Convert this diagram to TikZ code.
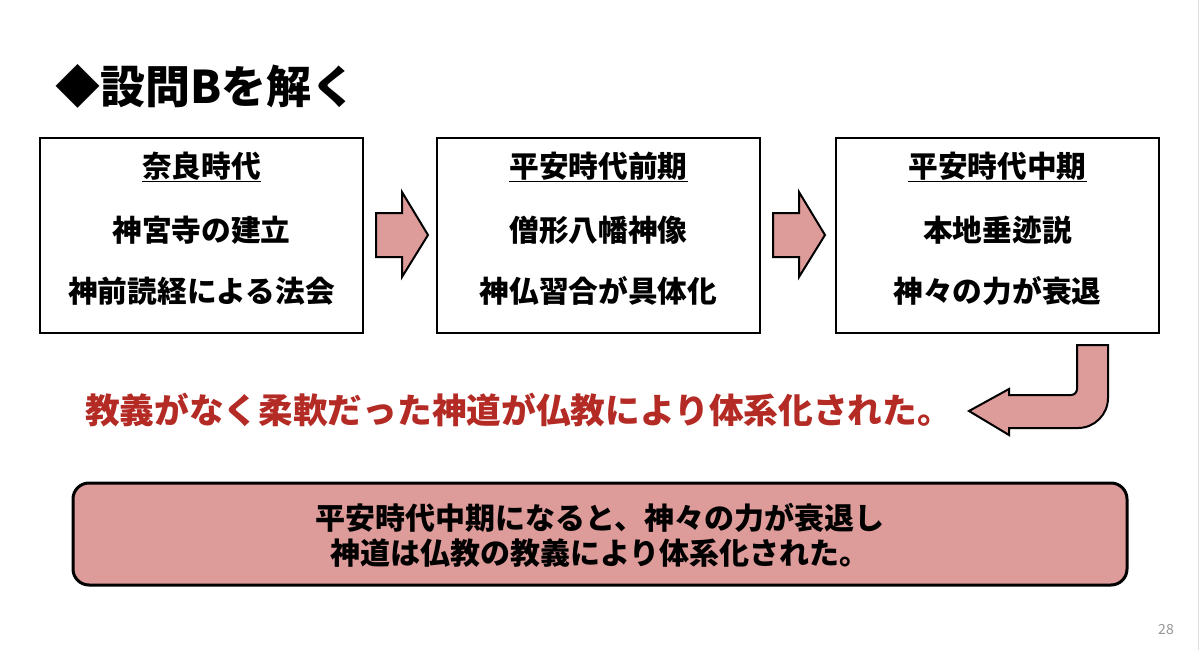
\documentclass[tikz,border=0pt]{standalone}
\usepackage{fontspec}
\setmainfont{Noto Sans CJK JP}
\setsansfont{Noto Sans CJK JP}
\definecolor{pinkfill}{RGB}{221,155,153}
\definecolor{redtext}{RGB}{180,42,36}
\definecolor{pagegray}{RGB}{150,150,150}
\begin{document}
\begin{tikzpicture}[x=1pt,y=-1pt,
  stagebox/.style={draw=black,line width=2pt,fill=white,minimum width=323pt,minimum height=195pt,inner sep=0pt},
  stagetext/.style={font=\fontsize{29.7}{34}\selectfont\bfseries,inner sep=0pt},
  blockarrow/.style={draw=black,line width=2pt,fill=pinkfill,line join=miter},
  summarybox/.style={draw=black,line width=3pt,fill=pinkfill,rounded corners=16pt,minimum width=1054pt,minimum height=102pt,inner sep=0pt}]
\useasboundingbox (0,0) rectangle (1200,650);
\fill[white] (0,0) rectangle (1200,650);
\draw[gray!25,line width=1.5pt] (1198.5,0) -- (1198.5,650);

% title
\node[anchor=west,inner sep=0pt,font=\fontsize{45}{50}\selectfont\bfseries] (title) at (55,86) {◆設問Bを解く};

% stage boxes
\node[stagebox] (b1) at (201.5,235.5) {};
\node[stagebox] (b2) at (598.5,235.5) {};
\node[stagebox] (b3) at (997.5,235.5) {};

\node[stagetext] (b1t) at (201.5,167) {\underline{奈良時代}};
\node[stagetext] (b1a) at (201.5,230) {神宮寺の建立};
\node[stagetext] (b1b) at (201.5,291) {神前読経による法会};

\node[stagetext] (b2t) at (598.5,167) {\underline{平安時代前期}};
\node[stagetext] (b2a) at (598.5,230) {僧形八幡神像};
\node[stagetext] (b2b) at (598.5,291) {神仏習合が具体化};

\node[stagetext] (b3t) at (997.5,167) {\underline{平安時代中期}};
\node[stagetext] (b3a) at (997.5,230) {本地垂迹説};
\node[stagetext] (b3b) at (997.5,291) {神々の力が衰退};

% block arrows
\draw[blockarrow] (376,213) -- (402,213) -- (402,192) -- (428,235) -- (402,277) -- (402,257) -- (376,257) -- cycle;
\draw[blockarrow] (773,213) -- (799,213) -- (799,192) -- (825,235) -- (799,277) -- (799,257) -- (773,257) -- cycle;

% bent arrow
\draw[blockarrow] (1077,345) -- (1108,345) -- (1108,398)
  .. controls (1108,414.5) and (1094.5,428) .. (1078,428)
  -- (1009,428) -- (1009,435) -- (969,411) -- (1009,389) -- (1009,395) -- (1071,395)
  .. controls (1074.3,395) and (1077,392.3) .. (1077,389) -- cycle;

% red conclusion
\node[inner sep=0pt,text=redtext,font=\fontsize{34.7}{40}\selectfont\bfseries] (concl) at (518.5,410) {教義がなく柔軟だった神道が仏教により体系化された。};

% summary box
\node[summarybox] (sum) at (600,534) {};
\node[inner sep=0pt,align=center,font=\fontsize{30}{35}\selectfont\bfseries] (sumt) at (600,535) {平安時代中期になると、神々の力が衰退し\\神道は仏教の教義により体系化された。};

% page number
\node[inner sep=0pt,text=pagegray,font=\fontsize{14}{16}\selectfont] (pg) at (1166,630) {28};
\end{tikzpicture}
\end{document}
